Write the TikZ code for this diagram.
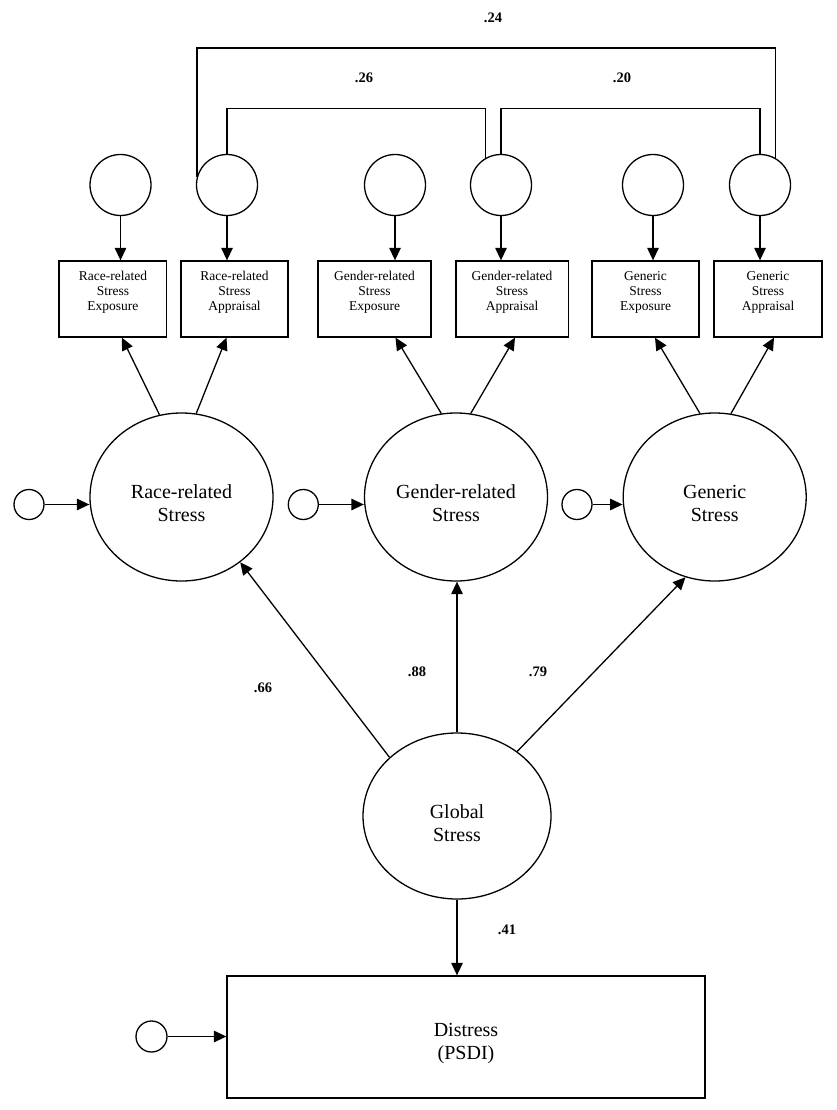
\documentclass[tikz,border=0pt]{standalone}
\usepackage{fontspec}
\setmainfont{Liberation Serif}
\usetikzlibrary{arrows.meta,calc,shapes.geometric}
\begin{document}
\begin{tikzpicture}[x=1pt,y=-1pt,line width=1.3pt,
  arr/.style={-{Triangle[length=12.5pt,width=11.5pt]}},
  err/.style={circle,draw,minimum size=30pt,inner sep=0pt},
  res/.style={circle,draw,minimum size=61pt,inner sep=0pt},
  ind/.style={rectangle,draw,minimum height=76pt,inner sep=0pt},
  indtext/.style={align=center,font=\fontsize{13.5}{15}\selectfont,inner sep=0pt},
  lat/.style={ellipse,draw,minimum width=183pt,minimum height=168pt,inner sep=0pt},
  lattext/.style={align=center,font=\fontsize{20}{23}\selectfont,inner sep=0pt},
  coef/.style={font=\bfseries\fontsize{14.5}{17}\selectfont,inner sep=0pt}
]
\path[fill=white] (0,0) rectangle (837,1110);
\useasboundingbox (0,0) rectangle (837,1110);

% residual circles (top)
\node[res] (c1) at (120.5,185) {};
\node[res] (c2) at (227,185) {};
\node[res] (c3) at (395,185) {};
\node[res] (c4) at (501,185) {};
\node[res] (c5) at (653,185) {};
\node[res] (c6) at (760,185) {};

% indicator boxes
\node[ind,minimum width=107.7pt] (b1) at (112.9,299) {};
\node[ind,minimum width=107pt] (b2) at (234.5,299) {};
\node[ind,minimum width=113pt] (b3) at (374.5,299) {};
\node[ind,minimum width=112.3pt] (b4) at (512,299) {};
\node[ind,minimum width=107pt] (b5) at (645.5,299) {};
\node[ind,minimum width=108pt] (b6) at (768,299) {};

\node[indtext,yshift=7pt] (t1) at (b1) {Race-related\\Stress\\Exposure};
\node[indtext,yshift=7pt] (t2) at (b2) {Race-related\\Stress\\Appraisal};
\node[indtext,yshift=7pt] (t3) at (b3) {Gender-related\\Stress\\Exposure};
\node[indtext,yshift=7pt] (t4) at (b4) {Gender-related\\Stress\\Appraisal};
\node[indtext,yshift=7pt] (t5) at (b5) {Generic\\Stress\\Exposure};
\node[indtext,yshift=7pt] (t6) at (b6) {Generic\\Stress\\Appraisal};

% residual -> indicator arrows
\foreach \i in {1,...,6} {
  \draw[arr] (c\i) -- (c\i |- b\i.north);
}

% covariances
\coordinate (k24) at (486,48);
\coordinate (k26) at (356,108.7);
\coordinate (k20) at (630,108.7);
\draw (c2.165) |- (k24) -| (c6.60);
\draw (c2.north) |- (k26) -| (c4.120);
\draw (c4.north) |- (k20) -| (c6.north);
\node[coef] (l24) at (493,18) {.24};
\node[coef] (l26) at (364,78) {.26};
\node[coef] (l20) at (622,78) {.20};

% first-order factors
\node[lat] (race) at (181.5,497) {};
\node[lat] (gender) at (456,497) {};
\node[lat] (generic) at (714.7,497) {};
\node[lattext,yshift=-6pt] (trace) at (race) {Race-related\\Stress};
\node[lattext,yshift=-6pt] (tgender) at (gender) {Gender-related\\Stress};
\node[lattext,yshift=-6pt] (tgeneric) at (generic) {Generic\\Stress};

% disturbances
\node[err] (s1) at (29,504.5) {};
\node[err] (s2) at (303.3,504.5) {};
\node[err] (s3) at (577,504.5) {};
\draw[arr] (s1) -- (s1 -| race.west);
\draw[arr] (s2) -- (s2 -| gender.west);
\draw[arr] (s3) -- (s3 -| generic.west);

% factor -> indicator
\draw[arr] (race.105) -- ($(b1.south)+(9,0)$);
\draw[arr] (race.80) -- ($(b2.south)+(-8,0)$);
\draw[arr] (gender.100) -- ($(b3.south)+(21,0)$);
\draw[arr] (gender.80.5) -- ($(b4.south)+(3,0)$);
\draw[arr] (generic.100.6) -- ($(b5.south)+(9.5,0)$);
\draw[arr] (generic.79.7) -- ($(b6.south)+(6,0)$);

% global factor
\node[ellipse,draw,minimum width=188pt,minimum height=166pt,inner sep=0pt] (global) at (457,816) {};
\node[lattext,yshift=-7pt] (tglobal) at (global) {Global\\Stress};
\draw[arr] (global.139) -- (race.312);
\draw[arr] (global.north) -- (global.north |- gender.south);
\draw[arr] (global.47.8) -- (generic.250);
\node[coef] (l66) at (263,688) {.66};
\node[coef] (l88) at (417,672) {.88};
\node[coef] (l79) at (538,672) {.79};

% outcome
\node[rectangle,draw,minimum width=478pt,minimum height=122pt,inner sep=0pt] (distress) at (466,1037) {};
\node[lattext,yshift=-6pt] (tdistress) at (distress) {Distress\\(PSDI)};
\draw[arr] (global.south) -- (global.south |- distress.north);
\node[coef] (l41) at (507,930) {.41};
\node[err,minimum size=31pt] (s4) at (151.5,1036.5) {};
\draw[arr] (s4) -- (s4 -| distress.west);
\end{tikzpicture}
\end{document}
